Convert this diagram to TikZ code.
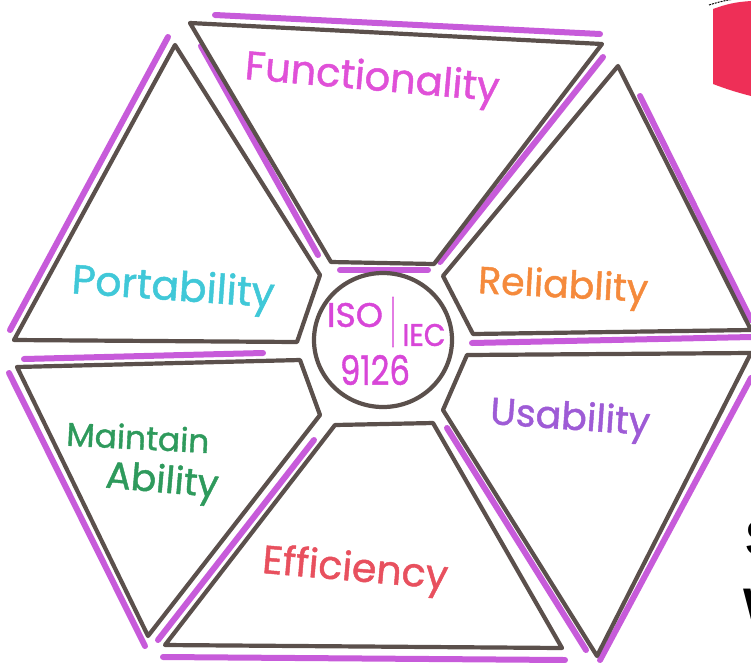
\documentclass[tikz,border=0pt]{standalone}
\usepackage{fontspec}
\usepackage{graphicx}
\setmainfont{Poppins}
\newfontfamily\hand{Poppins}[FakeBold=1.2]
\newfontfamily\bigsans{Liberation Sans}
\definecolor{outl}{HTML}{5B504C}
\definecolor{mag}{HTML}{C24AD6}
\definecolor{cfun}{HTML}{E050D8}
\definecolor{crel}{HTML}{F58A3C}
\definecolor{cusa}{HTML}{9E5BD6}
\definecolor{ceff}{HTML}{E8505E}
\definecolor{cmai}{HTML}{2E9A5C}
\definecolor{cpor}{HTML}{40C8D8}
\definecolor{ccen}{HTML}{D846D8}
\definecolor{redblock}{HTML}{EE2F57}
\tikzset{
  outline/.style={draw=outl, line width=4.2pt, line join=round, line cap=round},
  hilite/.style={draw=mag, line width=6pt, line cap=round, opacity=0.9},
  lbl/.style={inner sep=0pt, font=\hand\fontsize{24}{26}\selectfont}
}
\begin{document}
\begin{tikzpicture}[x=1pt,y=-1pt]
\useasboundingbox (0,0) rectangle (751,662);
\fill[white] (0,0) rectangle (751,662);
% red block top right
\fill[redblock] (713,9) to[bend left=8] (751,1) -- (751,96) to[bend left=3] (713,84) -- cycle;
\draw[black, line width=1pt, dash pattern=on 2pt off 1pt] (709,5) to[bend left=8] (751,-2);
% magenta highlights
\draw[hilite] (215,15) -- (600,34);
\draw[hilite] (201,46) -- (318,255);
\draw[hilite] (603,57) -- (440,262);
\draw[hilite] (168,37) -- (10,330);
\draw[hilite] (640,96) -- (751,320);
\draw[hilite] (472,343) -- (751,337);
\draw[hilite] (24,359) -- (263,353);
\draw[hilite] (9,373) -- (145,646);
\draw[hilite] (314,440) -- (158,640);
\draw[hilite] (163,657) -- (565,660);
\draw[hilite] (447,428) -- (586,650);
\draw[hilite] (751,378) -- (600,660);
\draw[hilite] (340,270) -- (428,270);
% outlines
\draw[outline] (190,23) -- (602,44) -- (434,264) -- (331,262) -- cycle;
\draw[outline] (618,66) -- (751,330) -- (473,334) -- (443,276) -- cycle;
\draw[outline] (467,355) -- (751,353) -- (597,656) -- (443,410) -- cycle;
\draw[outline] (335,425) -- (433,423) -- (562,648) -- (165,645) -- cycle;
\draw[outline] (17,367) -- (300,360) -- (320,415) -- (148,636) -- cycle;
\draw[outline] (175,45) -- (320,275) -- (297,342) -- (14,340) -- cycle;
\draw[outline] (383,340) ellipse[x radius=69, y radius=67];
% labels
\node[lbl, text=cfun, rotate=-5] (fun) at (372,80) {\resizebox{255pt}{!}{Functionality}};
\node[lbl, text=crel, rotate=-3] (rel) at (563,288) {\resizebox{170pt}{!}{Reliablity}};
\node[lbl, text=cusa, rotate=-4] (usa) at (570,420) {\resizebox{160pt}{!}{Usability}};
\node[lbl, text=ceff, rotate=-5] (eff) at (355,571) {\resizebox{186pt}{!}{Efficiency}};
\node[lbl, text=cmai, rotate=-3] (mai) at (138,437) {\resizebox{143pt}{!}{Maintain}};
\node[lbl, text=cmai, rotate=-5] (abi) at (162,483) {\resizebox{113pt}{!}{Ability}};
\node[lbl, text=cpor, rotate=-4] (por) at (173,290) {\resizebox{203pt}{!}{Portability}};
% center text
\node[inner sep=0pt, text=ccen, font=\hand] (iso) at (355,315) {\resizebox{56pt}{24pt}{ISO}};
\node[inner sep=0pt, text=ccen, font=\hand] (bar) at (393,322) {\resizebox{4pt}{44pt}{|}};
\node[inner sep=0pt, text=ccen, font=\hand] (iec) at (424,335) {\resizebox{43pt}{22pt}{IEC}};
\node[inner sep=0pt, text=ccen, font=\hand] (num) at (375,370) {\resizebox{70pt}{30pt}{9126}};
% cut-off letters right
\node[inner sep=0pt, anchor=west, font=\bigsans\bfseries\fontsize{50}{50}\selectfont] (ls) at (745,538) {S};
\node[inner sep=0pt, anchor=west, font=\bigsans\bfseries\fontsize{50}{50}\selectfont] (lw) at (743,606) {W};
\end{tikzpicture}
\end{document}
